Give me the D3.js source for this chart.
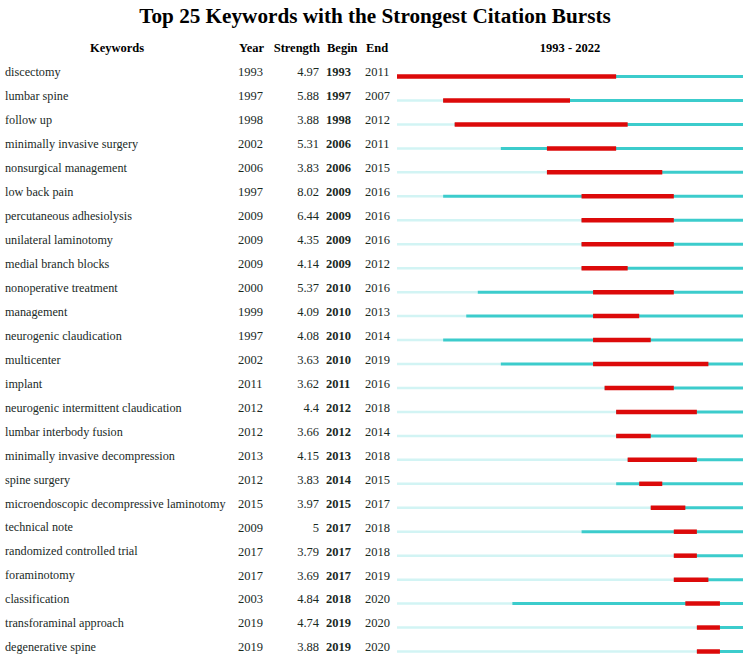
<!DOCTYPE html>
<html><head><meta charset="utf-8">
<script src="https://cdn.jsdelivr.net/npm/d3@7"></script>
<style>body{margin:0;background:#fff}</style>
</head><body>
<svg id="c" width="752" height="667"></svg>
<script>
const keywords = ["discectomy","lumbar spine","follow up","minimally invasive surgery","nonsurgical management","low back pain","percutaneous adhesiolysis","unilateral laminotomy","medial branch blocks","nonoperative treatment","management","neurogenic claudication","multicenter","implant","neurogenic intermittent claudication","lumbar interbody fusion","minimally invasive decompression","spine surgery","microendoscopic decompressive laminotomy","technical note","randomized controlled trial","foraminotomy","classification","transforaminal approach","degenerative spine"];
const years = [1993,1997,1998,2002,2006,1997,2009,2009,2009,2000,1999,1997,2002,2011,2012,2012,2013,2012,2015,2009,2017,2017,2003,2019,2019];
const strengths = ["4.97","5.88","3.88","5.31","3.83","8.02","6.44","4.35","4.14","5.37","4.09","4.08","3.63","3.62","4.4","3.66","4.15","3.83","3.97","5","3.79","3.69","4.84","4.74","3.88"];
const begins = [1993,1997,1998,2006,2006,2009,2009,2009,2009,2010,2010,2010,2010,2011,2012,2012,2013,2014,2015,2017,2017,2017,2018,2019,2019];
const ends = [2011,2007,2012,2011,2015,2016,2016,2016,2012,2016,2013,2014,2019,2016,2018,2014,2018,2015,2017,2018,2018,2019,2020,2020,2020];
const startYear = 1993, endYear = 2022;

const svg = d3.select("#c");
const font = "'Liberation Serif','Times New Roman',serif";
const txt = "#1a2a1f";

svg.append("text").attr("x", 375).attr("y", 23).attr("text-anchor","middle")
  .attr("font-family", font).attr("font-weight","bold").attr("font-size", 21.2).attr("fill","#000")
  .text("Top 25 Keywords with the Strongest Citation Bursts");

const y = d3.scalePoint().domain(d3.range(keywords.length)).range([72, 647]);
const x = d3.scaleLinear().domain([startYear, endYear + 1]).range([397, 743]);

const hdr = svg.append("g").attr("font-family", font).attr("font-weight","bold").attr("font-size", 12.5).attr("fill","#000");
const hy = 52;
hdr.append("text").attr("x",117).attr("y",hy).attr("text-anchor","middle").text("Keywords");
hdr.append("text").attr("x",239).attr("y",hy).text("Year");
hdr.append("text").attr("x",320).attr("y",hy).attr("text-anchor","end").text("Strength");
hdr.append("text").attr("x",327).attr("y",hy).text("Begin");
hdr.append("text").attr("x",366).attr("y",hy).text("End");
hdr.append("text").attr("x",570).attr("y",hy).attr("text-anchor","middle").text(startYear + " - " + endYear);

const rows = svg.append("g").selectAll("g").data(keywords.map((k,i)=>({k, i, year:years[i], s:strengths[i], b:begins[i], e:ends[i]})))
  .join("g").attr("transform", d => `translate(0,${y(d.i)})`);

const base = rows.append("g").attr("font-family", font).attr("font-size", 12.5).attr("fill", txt);
base.append("text").attr("x",5).attr("dy","0.35em").attr("font-size", 12.2).text(d=>d.k);
base.append("text").attr("x",238).attr("dy","0.35em").text(d=>d.year);
base.append("text").attr("x",319).attr("dy","0.35em").attr("text-anchor","end").text(d=>d.s);
base.append("text").attr("x",326).attr("dy","0.35em").attr("font-weight","bold").text(d=>d.b);
base.append("text").attr("x",365).attr("dy","0.35em").text(d=>d.e);

const by = 4.5;
rows.append("line").attr("x1", x(startYear)).attr("x2", d => x(d.year)).attr("y1", by).attr("y2", by)
  .attr("stroke", "#d2f4f4").attr("stroke-width", 2.5);
rows.append("line").attr("x1", d => x(d.year)).attr("x2", x(endYear+1)).attr("y1", by).attr("y2", by)
  .attr("stroke", "#3ccccc").attr("stroke-width", 3);
rows.append("line").attr("x1", d => x(d.b)).attr("x2", d => x(d.e+1)).attr("y1", by).attr("y2", by)
  .attr("stroke", "#dc0a0a").attr("stroke-width", 4.5);
</script>
</body></html>
